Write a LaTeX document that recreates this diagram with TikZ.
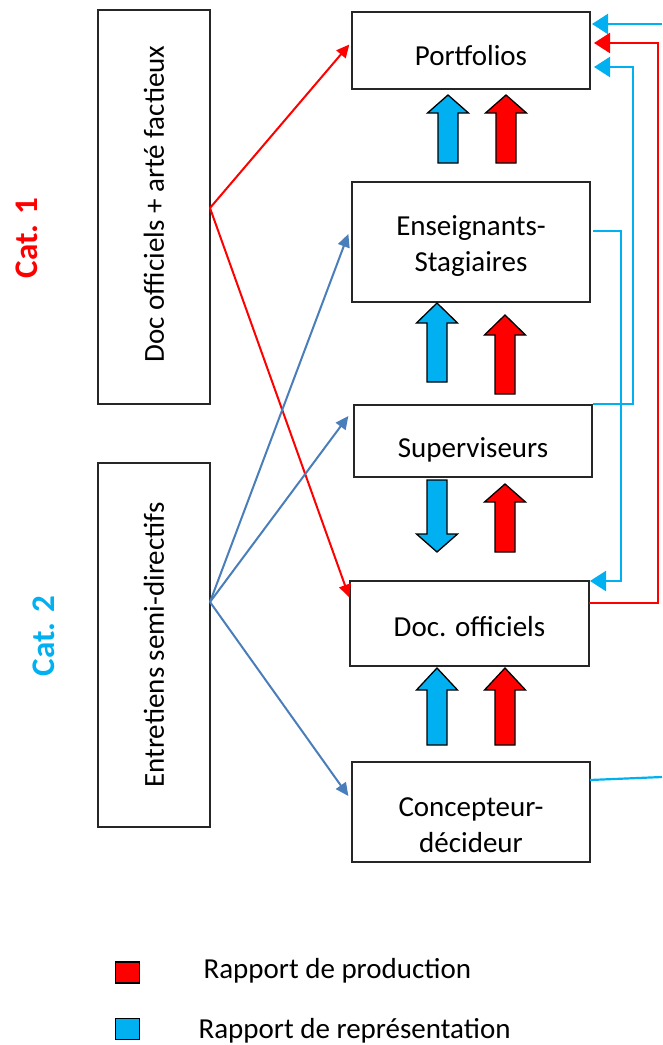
\documentclass[tikz,border=0pt]{standalone}
\usepackage{fontspec}
\setmainfont{Carlito}
\usetikzlibrary{arrows.meta}
\definecolor{cyanblue}{HTML}{00B0F0}
\definecolor{steel}{HTML}{4A7EBB}
\definecolor{pureRed}{HTML}{FF0000}
% up/down block arrow: centre x, tip y, head-base y, tail y, fill colour
\newcommand\blockarrow[5]{%
  \draw[line width=1.3pt, fill=#5, line join=miter]
    (#1-10,#4) -- (#1-10,#3) -- (#1-20.5,#3) -- (#1,#2) -- (#1+20.5,#3)
    -- (#1+10,#3) -- (#1+10,#4) -- cycle;}
\begin{document}
\begin{tikzpicture}[x=1pt,y=-1pt,
  box/.style={draw=black!85, line width=1.3pt, rectangle, inner sep=0pt},
  lbl/.style={font=\fontsize{29}{36}\selectfont, align=center},
  cat/.style={font=\fontsize{33}{38}\selectfont\bfseries, rotate=90},
  redline/.style={pureRed, line width=2pt, -{Triangle[length=13pt,width=12pt]}},
  steelline/.style={steel, line width=2pt, -{Triangle[length=13pt,width=12pt]}},
  cyanline/.style={cyanblue, line width=2.2pt},
  cyanarrow/.style={cyanline, -{Triangle[length=16pt,width=20pt]}},
  redarrow/.style={pureRed, line width=2.2pt, -{Triangle[length=16pt,width=20pt]}},
  legsq/.style={draw, line width=1.3pt, minimum width=24pt, minimum height=21pt, inner sep=0pt}]
\useasboundingbox (0,0) rectangle (662,1045);

% main chain of boxes
\node[box, minimum width=238pt, minimum height=77pt]  (portf) at (471,50.5) {};
\node[box, minimum width=238pt, minimum height=120pt] (ens)   at (471,242) {};
\node[box, minimum width=238pt, minimum height=72pt]  (sup)   at (473,441) {};
\node[box, minimum width=239pt, minimum height=85pt]  (doc)   at (469.5,623.5) {};
\node[box, minimum width=238pt, minimum height=100pt] (conc)  at (471,812) {};

\node[lbl] (tportf) at (471,56) {Portfolios};
\node[lbl] (tens)   at (471,246) {Enseignants-\\Stagiaires};
\node[lbl] (tsup)   at (473,450) {Superviseurs};
\node[lbl] (tdoc)   at (469.5,627) {Doc. officiels};
\node[lbl] (tconc)  at (471,825) {Concepteur-\\décideur};

% source boxes on the left
\node[box, minimum width=112pt, minimum height=394pt] (src1) at (154,207) {};
\node[box, minimum width=112pt, minimum height=364pt] (src2) at (154,645) {};
\node[lbl, rotate=90] (tsrc1) at (154,204) {Doc officiels + arté factieux};
\node[lbl, rotate=90] (tsrc2) at (154,645) {Entretiens semi-directifs};

\node[cat, pureRed]   (cat1) at (27,238) {Cat. 1};
\node[cat, cyanblue]  (cat2) at (44,636) {Cat. 2};

% connectors from the sources
\coordinate (s1) at (210,208);
\coordinate (s2) at (210,602);
\draw[redline] (s1) -- ([xshift=-2pt,yshift=6pt]portf.west);
\draw[redline] (s1) -- ([yshift=26pt]doc.west);
\draw[steelline] (s2) -- ([xshift=-3pt,yshift=8pt]ens.west);
\draw[steelline] (s2) -- ([xshift=-5pt,yshift=25pt]sup.west);
\draw[steelline] (s2) -- ([xshift=-3pt,yshift=16pt]conc.west);

% block arrows between the levels
\blockarrow{448}{95}{113}{163}{cyanblue}
\blockarrow{506}{95}{113}{163}{pureRed}
\blockarrow{437}{303}{323}{382}{cyanblue}
\blockarrow{505}{315}{335}{394}{pureRed}
\blockarrow{437}{552}{534}{480}{cyanblue}
\blockarrow{505}{484}{502}{552}{pureRed}
\blockarrow{437}{668}{690}{745}{cyanblue}
\blockarrow{505}{668}{690}{745}{pureRed}

% feedback lines on the right
\coordinate (edgeTop) at (662,24);
\coordinate (edgeLow) at (662,777);
\coordinate (pIn1) at (592,24);
\coordinate (pIn2) at (594,43);
\coordinate (pIn3) at (594,67);
\coordinate (docOut) at (589,603);
\coordinate (docIn) at (590,581);
\coordinate (supOut) at (593,404);
\coordinate (ensOut) at (593,231);
\coordinate (concOut) at (590,780);
\draw[cyanarrow] (edgeTop) -- (pIn1);
\draw[redarrow] (docOut) -- (658,603) -- (658,43) -- (pIn2);
\draw[cyanarrow] (supOut) -- (633,404) -- (633,67) -- (pIn3);
\draw[cyanarrow] (ensOut) -- (621,231) -- (621,581) -- (docIn);
\draw[cyanline] (concOut) -- (edgeLow);

% legend
\node[legsq, fill=pureRed]  (legR) at (127.5,972.5) {};
\node[legsq, fill=cyanblue] (legB) at (127.5,1029) {};
\node[lbl, anchor=west] (tlegR) at (200,971) {Rapport de production};
\node[lbl, anchor=west] (tlegB) at (195,1031) {Rapport de représentation};
\end{tikzpicture}
\end{document}
